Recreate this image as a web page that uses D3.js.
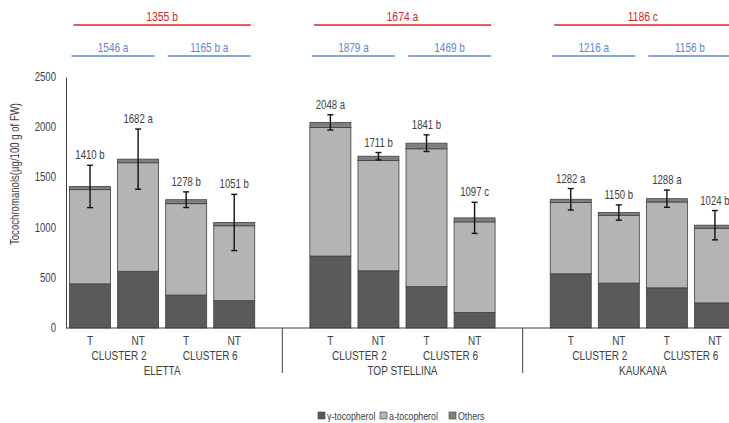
<!DOCTYPE html>
<html>
<head>
<meta charset="utf-8">
<script src="https://cdn.jsdelivr.net/npm/d3@7"></script>
<style>
  body { margin: 0; background: #fff; }
  svg text { font-family: "Liberation Sans", Arial, sans-serif; fill: #404040; }
</style>
</head>
<body>
<svg id="chart" width="729" height="423"></svg>
<script>
var width = 729;
var height = 423;

// data
var cultivars = ["ELETTA", "TOP STELLINA", "KAUKANA"];
var clusters = ["CLUSTER 2", "CLUSTER 6"];
var treatments = ["T", "NT"];
var gamma  = [440, 565, 328, 272,  717, 570, 412, 155,  540, 447, 400, 250];
var alpha  = [938, 1081, 910, 746,  1281, 1098, 1373, 902,  709, 676, 855, 744];
var others = [32, 36, 40, 33,  50, 43, 56, 40,  33, 27, 33, 30];
var errors = [211, 300, 78, 280,  76, 37, 83, 155,  107, 76, 86, 146];
var barLabels = ["1410 b", "1682 a", "1278 b", "1051 b",
                 "2048 a", "1711 b", "1841 b", "1097 c",
                 "1282 a", "1150 b", "1288 a", "1024 b"];
var cultivarLabels = ["1355 b", "1674 a", "1186 c"];
var clusterLabels = ["1546 a", "1165 b a", "1879 a", "1469 b", "1216 a", "1156 b"];
var yTicks = [0, 500, 1000, 1500, 2000, 2500];
var seriesNames = ["γ-tocopherol", "a-tocopherol", "Others"];
var seriesKeys = ["gamma", "alpha", "others"];
var colors = ["#5a5a5a", "#b4b4b4", "#808080"];

var rows = gamma.map(function(v, i) {
    return { i: i, gamma: v, alpha: alpha[i], others: others[i] };
});
// each cultivar takes 4 slots, then one empty slot
function slotOf(i) { return Math.floor(i / 4) * 5 + (i % 4); }

var x = d3.scaleBand()
    .domain(d3.range(14))
    .range([66, 66 + 14 * 48.07])
    .paddingInner(0.147)
    .paddingOuter(0.0735);

var y = d3.scaleLinear()
    .domain([0, 2500])
    .range([328, 77]);

var svg = d3.select("#chart");

// no narrow font installed, so squeeze the sans horizontally
var squeeze = 0.8;
function narrow(parent, px, py, str, size, anchor) {
    var g = parent.append("g").attr("transform", "translate(" + px + "," + py + ")");
    return g.append("text")
        .attr("transform", "scale(" + squeeze + ",1)")
        .attr("font-size", size)
        .attr("text-anchor", anchor || "middle")
        .text(str);
}

var stack = d3.stack().keys(seriesKeys);
var series = stack(rows);

// bars
svg.append("g").selectAll("g")
    .data(series)
    .join("g")
      .attr("fill", (d, k) => colors[k])
    .selectAll("rect")
    .data(d => d)
    .join("rect")
      .attr("x", d => x(slotOf(d.data.i)))
      .attr("y", d => y(d[1]))
      .attr("width", x.bandwidth())
      .attr("height", d => y(d[0]) - y(d[1]))
      .attr("stroke", "#404040")
      .attr("stroke-width", 0.8);

// error bars
var totals = rows.map(d => d.gamma + d.alpha + d.others);
var eb = svg.append("g").attr("stroke", "#111").attr("stroke-width", 1.4);
totals.forEach(function(t, i) {
    var cx = x(slotOf(i)) + x.bandwidth() / 2;
    eb.append("line").attr("x1", cx).attr("x2", cx).attr("y1", y(t + errors[i])).attr("y2", y(t - errors[i]));
    eb.append("line").attr("x1", cx - 3).attr("x2", cx + 3).attr("y1", y(t + errors[i])).attr("y2", y(t + errors[i]));
    eb.append("line").attr("x1", cx - 3).attr("x2", cx + 3).attr("y1", y(t - errors[i])).attr("y2", y(t - errors[i]));
});

// value labels
var vl = svg.append("g");
barLabels.forEach(function(t, i) {
    narrow(vl, x(slotOf(i)) + x.bandwidth() / 2, y(totals[i] + errors[i]) - 6, t, 12);
});

// y axis
var yAxis = d3.axisLeft(y).tickValues(yTicks).tickSize(0).tickFormat(d3.format("d")).tickFormat("");
var ya = svg.append("g").attr("transform", "translate(66,0)").call(yAxis);
ya.select(".domain").attr("stroke", "#404040");
yTicks.forEach(function(v) {
    narrow(svg, 56, y(v) + 4, d3.format("d")(v), 12, "end");
});

var yt = svg.append("g").attr("transform", "translate(19,174) rotate(-90)");
yt.append("text")
    .attr("transform", "scale(" + squeeze + ",1)")
    .attr("text-anchor", "middle")
    .attr("font-size", 12)
    .text("Tocochromanols(µg/100 g of FW)");

// x axis line
svg.append("line")
    .attr("x1", 66).attr("x2", width)
    .attr("y1", y(0)).attr("y2", y(0))
    .attr("stroke", "#404040").attr("stroke-width", 1);

// category labels: treatment, cluster, cultivar
var lab = svg.append("g");
d3.range(12).forEach(function(i) {
    narrow(lab, x(slotOf(i)) + x.bandwidth() / 2, 345, treatments[i % 2], 12.5);
});
d3.range(6).forEach(function(c) {
    var a = slotOf(c * 2), b = slotOf(c * 2 + 1);
    var cx = (x(a) + x(b) + x.bandwidth()) / 2;
    narrow(lab, cx + (c % 2 == 0 ? 5 : 0), 360, clusters[c % 2], 12.5);
});
cultivars.forEach(function(name, g) {
    var cx = (x(g * 5) + x(g * 5 + 3) + x.bandwidth()) / 2;
    narrow(lab, cx, 375, name, 12.5);
});

// separators between cultivars
[4, 9].forEach(function(s) {
    var sx = x(s) + x.bandwidth() / 2;
    svg.append("line")
        .attr("x1", sx).attr("x2", sx)
        .attr("y1", y(0)).attr("y2", 373)
        .attr("stroke", "#404040").attr("stroke-width", 1);
});

// significance brackets on top
cultivarLabels.forEach(function(t, g) {
    var x0 = x(g * 5) + 4, x1 = x(g * 5 + 3) + x.bandwidth() - 4;
    svg.append("line")
        .attr("x1", x0).attr("x2", x1).attr("y1", 25).attr("y2", 25)
        .attr("stroke", "#e0242c").attr("stroke-width", 1.6);
    narrow(svg, (x0 + x1) / 2, 21, t, 13).style("fill", "#d9262c");
});
clusterLabels.forEach(function(t, c) {
    var a = slotOf(c * 2), b = slotOf(c * 2 + 1);
    var x0 = x(a) + 2, x1 = x(b) + x.bandwidth() - 4;
    svg.append("line")
        .attr("x1", x0).attr("x2", x1).attr("y1", 56).attr("y2", 56)
        .attr("stroke", "#5b86d1").attr("stroke-width", 1.6);
    narrow(svg, (x0 + x1) / 2, 52, t, 12.5).style("fill", "#5b86d1");
});

// legend
var legend = svg.append("g").attr("transform", "translate(318,416)");
var lx = [0, 62, 131];
seriesNames.forEach(function(name, k) {
    var it = legend.append("g").attr("transform", "translate(" + lx[k] + ",0)");
    it.append("rect")
        .attr("x", 0).attr("y", -4).attr("width", 7).attr("height", 7)
        .attr("fill", colors[k]).attr("stroke", "#404040").attr("stroke-width", 0.6);
    narrow(it, 9, 3.5, name, 11, "start");
});
</script>
</body>
</html>
